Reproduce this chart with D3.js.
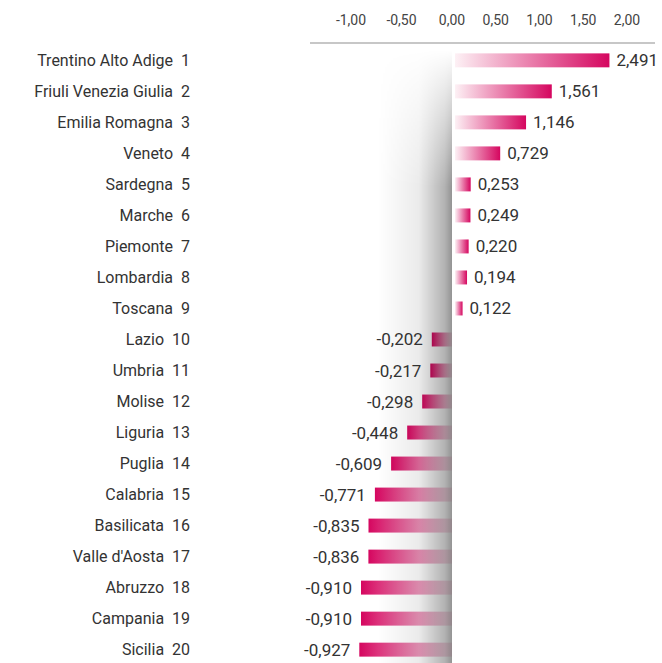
<!DOCTYPE html>
<html>
<head>
<meta charset="utf-8">
<script src="https://cdn.jsdelivr.net/npm/d3@7"></script>
<style>
  body { margin: 0; background: #fff; }
  text { font-family: Roboto, "Noto Sans", sans-serif; fill: #333; }
</style>
</head>
<body>
<div id="chart"></div>
<script>
// data
const regions = ["Trentino Alto Adige", "Friuli Venezia Giulia", "Emilia Romagna", "Veneto", "Sardegna",
  "Marche", "Piemonte", "Lombardia", "Toscana", "Lazio", "Umbria", "Molise", "Liguria", "Puglia",
  "Calabria", "Basilicata", "Valle d'Aosta", "Abruzzo", "Campania", "Sicilia"]
const values = [2.491, 1.561, 1.146, 0.729, 0.253, 0.249, 0.220, 0.194, 0.122, -0.202, -0.217,
  -0.298, -0.448, -0.609, -0.771, -0.835, -0.836, -0.910, -0.910, -0.927]
const ticks = [-1, -0.5, 0, 0.5, 1, 1.5, 2]

const width = 662, height = 663
// italian style numbers: comma decimals, plain hyphen for minus
const fmt2 = d => d3.format(".2f")(d).replace(".", ",").replace("\u2212", "-")
const fmt3 = d => d3.format(".3f")(d).replace(".", ",").replace("\u2212", "-")

const svg = d3.select("#chart")
  .append("svg")
  .attr("width", width)
  .attr("height", height)

const defs = svg.append("defs")

// gradients for the bars
const gPos = defs.append("linearGradient").attr("id", "gPos")
gPos.append("stop").attr("offset", "0%").attr("stop-color", "#fdf1f5")
gPos.append("stop").attr("offset", "100%").attr("stop-color", "#d5065f")

const gNeg = defs.append("linearGradient").attr("id", "gNeg")
gNeg.append("stop").attr("offset", "0%").attr("stop-color", "#d5065f")
gNeg.append("stop").attr("offset", "100%").attr("stop-color", "#fbe9f0")

// shadow along the zero line
const gShadow = defs.append("linearGradient").attr("id", "gShadow")
gShadow.append("stop").attr("offset", "0%").attr("stop-color", "#000").attr("stop-opacity", 0)
gShadow.append("stop").attr("offset", "55%").attr("stop-color", "#000").attr("stop-opacity", 0.08)
gShadow.append("stop").attr("offset", "90%").attr("stop-color", "#000").attr("stop-opacity", 0.3)
gShadow.append("stop").attr("offset", "100%").attr("stop-color", "#000").attr("stop-opacity", 0.42)

const gFade = defs.append("linearGradient").attr("id", "gFade")
  .attr("x1", 0).attr("x2", 0).attr("y1", 0).attr("y2", 1)
gFade.append("stop").attr("offset", "0%").attr("stop-color", "#fff").attr("stop-opacity", 0)
gFade.append("stop").attr("offset", "22%").attr("stop-color", "#fff").attr("stop-opacity", 1)
gFade.append("stop").attr("offset", "100%").attr("stop-color", "#fff").attr("stop-opacity", 1)

// scales
const xAxis = d3.scaleLinear().domain([-1, 0, 2]).range([351, 452, 627])
const xBar = d3.scaleLinear().domain([-1, 0, 2.5]).range([352, 452, 607])
const y = d3.scaleBand().domain(d3.range(regions.length)).range([45, 665]).paddingInner(0.55).paddingOuter(0.27)

// top axis
svg.append("line")
  .attr("x1", 310).attr("x2", 655)
  .attr("y1", 43).attr("y2", 43)
  .style("stroke", "#b4b4b4")
  .style("stroke-width", 1.5)

svg.selectAll(".tick")
  .data(ticks)
  .join("text")
  .attr("class", "tick")
  .attr("x", d => xAxis(d))
  .attr("y", 25)
  .attr("text-anchor", "middle")
  .style("font-size", "14px")
  .style("fill", "#444")
  .text(fmt2)

// bars
svg.selectAll(".bar")
  .data(values)
  .join("rect")
  .attr("class", "bar")
  .attr("x", d => d >= 0 ? xBar(0) + 3 : xBar(d))
  .attr("y", (d, i) => y(i))
  .attr("width", d => Math.abs(xBar(d) - xBar(0)))
  .attr("height", y.bandwidth())
  .style("fill", d => d >= 0 ? "url(#gPos)" : "url(#gNeg)")

// shadow on top of the bars
const mask = defs.append("mask").attr("id", "mFade")
mask.append("rect").attr("x", 370).attr("y", 50).attr("width", 90).attr("height", 620).style("fill", "url(#gFade)")

svg.append("rect")
  .attr("x", 378).attr("y", 50)
  .attr("width", xBar(0) - 378).attr("height", 620)
  .attr("mask", "url(#mFade)")
  .style("fill", "url(#gShadow)")

// region labels
svg.selectAll(".name")
  .data(regions)
  .join("text")
  .attr("class", "name")
  .attr("x", 190)
  .attr("y", (d, i) => y(i) + y.bandwidth() / 2 + 5.5)
  .attr("text-anchor", "end")
  .style("font-size", "16px")
  .style("white-space", "pre")
  .text((d, i) => d + "  " + (i + 1))

// value labels
svg.selectAll(".value")
  .data(values)
  .join("text")
  .attr("class", "value")
  .attr("x", d => d >= 0 ? xBar(d) + 10 : xBar(d) - 9)
  .attr("y", (d, i) => y(i) + y.bandwidth() / 2 + 6)
  .attr("text-anchor", d => d >= 0 ? "start" : "end")
  .style("font-size", "17px")
  .text(fmt3)
</script>
</body>
</html>
